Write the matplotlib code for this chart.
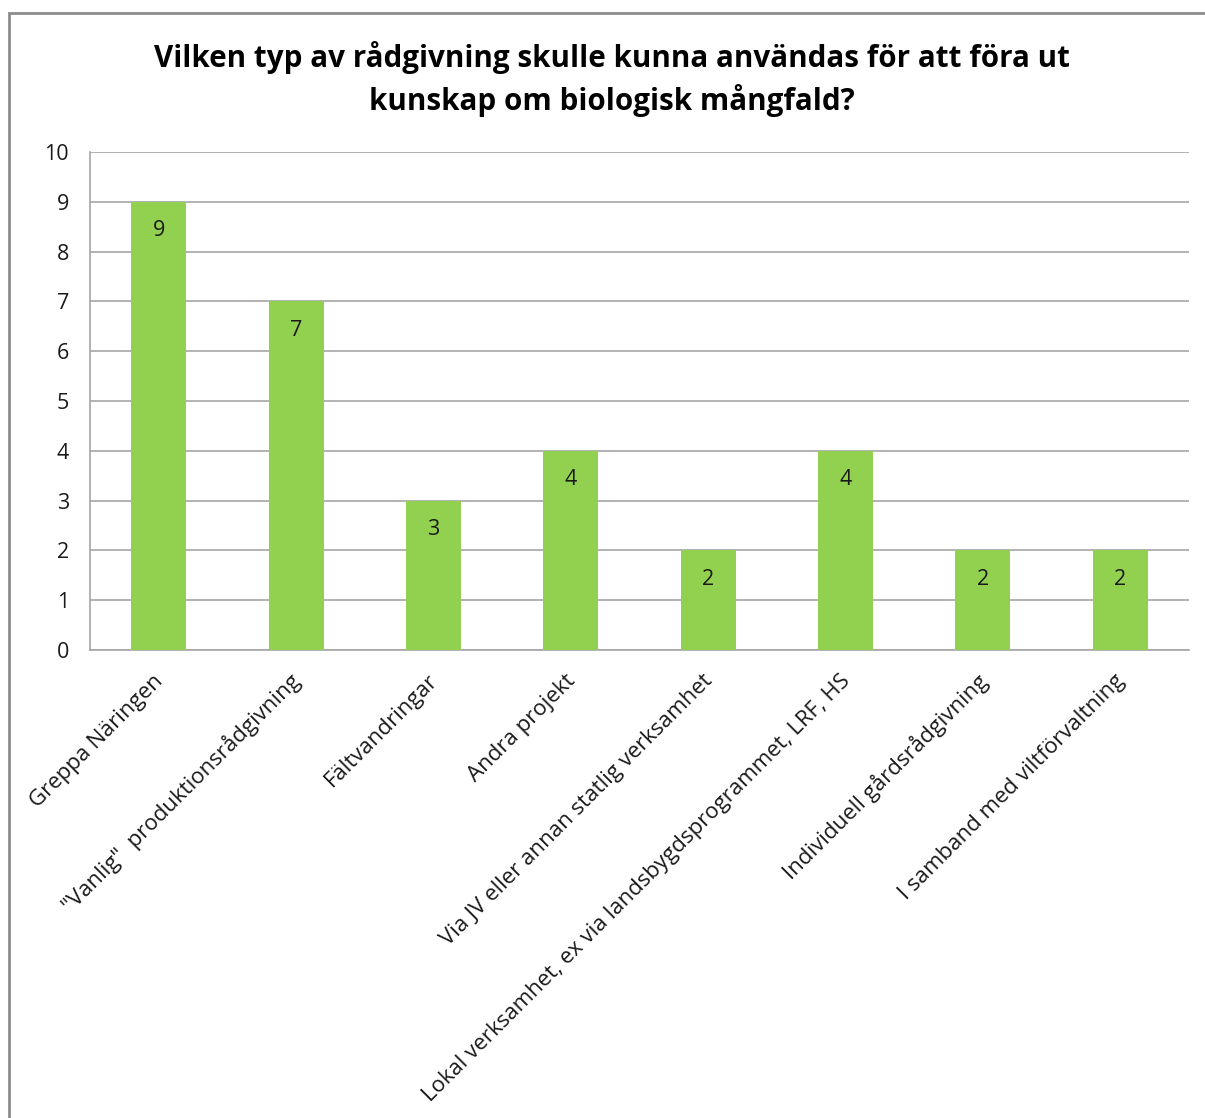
import matplotlib
matplotlib.use("Agg")
import matplotlib.pyplot as plt
from matplotlib.patches import Rectangle

categories = [
    "Greppa Näringen",
    "\"Vanlig\"  produktionsrådgivning",
    "Fältvandringar",
    "Andra projekt",
    "Via JV eller annan statlig verksamhet",
    "Lokal verksamhet, ex via landsbygdsprogrammet, LRF, HS",
    "Individuell gårdsrådgivning",
    "I samband med viltförvaltning",
]
values = [9, 7, 3, 4, 2, 4, 2, 2]
title = "Vilken typ av rådgivning skulle kunna användas för att föra ut\nkunskap om biologisk mångfald?"

plt.rcParams['font.family'] = ['Open Sans', 'DejaVu Sans']

W, H = 1205, 1118
fig = plt.figure(figsize=(W / 100, H / 100), dpi=100)
fig.patch.set_facecolor("white")

# outer chart frame (cut off at right and bottom like the screenshot)
fig.patches.append(Rectangle((9 / W, -0.05), 1.2, 1 - 13 / H + 0.05,
                             transform=fig.transFigure, fill=False,
                             edgecolor="#8c8c8c", linewidth=2))

ax = fig.add_axes([90 / W, 1 - 650 / H, (1189 - 90) / W, (650 - 152) / H])
x = list(range(len(categories)))
ax.bar(x, values, width=0.4, color="#92D050", zorder=3)
ax.set_xlim(-0.5, len(categories) - 0.5)
ax.set_ylim(0, 10)
ax.set_yticks(range(0, 11))
ax.yaxis.grid(True, color="#a6a6a6", linewidth=1.2, zorder=0)
ax.tick_params(axis="y", length=0, pad=15, labelsize=15.5, colors="#1a1a1a")
ax.tick_params(axis="x", length=0)
for s in ["top", "right"]:
    ax.spines[s].set_visible(False)
for s in ["left", "bottom"]:
    ax.spines[s].set_color("#a6a6a6")
    ax.spines[s].set_linewidth(1.2)

ax.set_xticks(x)
ax.set_xticklabels([])
for i, c in enumerate(categories):
    ax.annotate(c, xy=(i, 0), xycoords="data", xytext=(1, -20),
                textcoords="offset points", rotation=45,
                rotation_mode="anchor", ha="right", va="center",
                fontsize=16, color="#1a1a1a")

for i, v in enumerate(values):
    ax.annotate(str(v), xy=(i, v), xytext=(0, -21), textcoords="offset points",
                ha="center", va="center", fontsize=15.5, color="#1a1a1a", zorder=4)

fig.text(0.508, 1 - 79 / H, title, ha="center", va="center", fontsize=21.3,
         fontweight="bold", linespacing=1.4)

fig.savefig("out.png", dpi=100)
